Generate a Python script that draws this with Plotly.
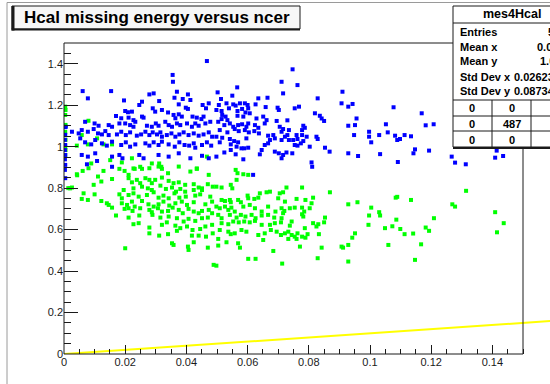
import plotly.graph_objects as go

# ---------------- data ----------------
blue_x = [
    0.0003, 0.0004, 0.0003, 0.0004, 0.0003, 0.0004, 0.0003, 0.0004, 0.0003, 0.0004,
    0.0467, 0.0355, 0.0356, 0.0061, 0.0154, 0.0078, 0.0369, 0.0279, 0.0293,
    0.0361, 0.0388, 0.0405, 0.0413, 0.0196, 0.0255, 0.0246, 0.0311,
    0.0375, 0.0398, 0.0405, 0.0453, 0.0464, 0.0473,
    0.0290, 0.0298, 0.0320, 0.0340, 0.0200, 0.0209, 0.0222,
    0.0170, 0.0187, 0.0211, 0.0227, 0.0255, 0.0260,
    0.0358, 0.0375, 0.0385, 0.0364, 0.0420, 0.0434, 0.0449, 0.0456,
    0.0069, 0.0100, 0.0113, 0.0146, 0.0157,
    0.0181, 0.0200, 0.0216, 0.0227, 0.0233,
    0.0271, 0.0287, 0.0300, 0.0309,
    0.0331, 0.0342, 0.0353, 0.0369, 0.0380,
    0.0402, 0.0418, 0.0429, 0.0440, 0.0462, 0.0478,
    0.0006, 0.0026, 0.0048, 0.0058, 0.0078, 0.0097, 0.0111,
    0.0124, 0.0135, 0.0146, 0.0173, 0.0187, 0.0202, 0.0216,
    0.0238, 0.0252, 0.0266, 0.0279, 0.0290, 0.0304, 0.0315, 0.0320,
    0.0336, 0.0351, 0.0364, 0.0377, 0.0391, 0.0407, 0.0424, 0.0440, 0.0456, 0.0473, 0.0484,
    0.0053, 0.0069, 0.0089, 0.0102, 0.0124, 0.0140, 0.0157,
    0.0187, 0.0202, 0.0216, 0.0233,
    0.0266, 0.0279, 0.0293, 0.0309, 0.0320,
    0.0342, 0.0362, 0.0377, 0.0394, 0.0409, 0.0424, 0.0429, 0.0451, 0.0467, 0.0481,
    0.0058, 0.0078, 0.0102, 0.0157, 0.0181, 0.0191,
    0.0246, 0.0260, 0.0309, 0.0342, 0.0375, 0.0413, 0.0451, 0.0473,
    0.0075, 0.0108, 0.0157, 0.0618,
    0.0747, 0.0711, 0.0763, 0.0566, 0.0716, 0.0502, 0.0550, 0.0513, 0.0635, 0.0665,
    0.0829, 0.0910, 0.0907, 0.0929, 0.0943, 0.0956, 0.0951, 0.0929, 0.0948, 0.0929,
    0.0961, 0.0809, 0.0811, 0.0868, 0.0853,
    0.0531, 0.0553, 0.0561, 0.0575, 0.0591, 0.0600, 0.0602, 0.0626, 0.0506, 0.0498,
    0.0515, 0.0539, 0.0567, 0.0582, 0.0593, 0.0607, 0.0659, 0.0698, 0.0702, 0.0754, 0.0768,
    0.0517, 0.0528, 0.0515, 0.0534, 0.0567, 0.0586, 0.0629, 0.0651, 0.0662, 0.0656,
    0.0695, 0.0730, 0.0820, 0.0836, 0.0842, 0.0850,
    0.0504, 0.0524, 0.0542, 0.0553, 0.0569, 0.0582, 0.0596, 0.0602, 0.0624, 0.0635,
    0.0705, 0.0716, 0.0735, 0.0782, 0.0787, 0.0778,
    0.0509, 0.0534, 0.0558, 0.0571, 0.0591, 0.0604, 0.0622, 0.0637, 0.0667, 0.0684,
    0.0711, 0.0722, 0.0730, 0.0760, 0.0778, 0.0793, 0.0825, 0.0829,
    0.0498, 0.0517, 0.0542, 0.0556, 0.0569, 0.0596, 0.0673, 0.0689, 0.0711, 0.0735,
    0.0749, 0.0763, 0.0782,
    0.0509, 0.0545, 0.0564, 0.0580, 0.0602, 0.0656, 0.0667, 0.0754, 0.0774, 0.0763, 0.0803,
    0.0524, 0.0545, 0.0561, 0.0589, 0.0646, 0.0640, 0.0689, 0.0702, 0.0716, 0.0727,
    0.0746, 0.0711, 0.0498, 0.0586,
    0.1077, 0.1169, 0.1052, 0.1182, 0.1208, 0.0997, 0.0997, 0.1004, 0.1030, 0.1058,
    0.1082, 0.1089, 0.1098, 0.1113, 0.1134, 0.1147, 0.1142, 0.1193, 0.1033, 0.1091,
    0.1267, 0.1278, 0.1313, 0.1414, 0.1409, 0.1435,
]
blue_y = [
    1.094, 1.057, 1.033, 1.008, 0.984, 0.960, 0.939, 0.912, 0.888, 0.848,
    1.413, 1.346, 1.313, 1.268, 1.268, 1.233, 1.265, 1.252, 1.257,
    1.236, 1.230, 1.252, 1.225, 1.223, 1.217, 1.201, 1.220,
    1.204, 1.188, 1.182, 1.201, 1.185, 1.209,
    1.185, 1.169, 1.177, 1.165, 1.172, 1.166, 1.169,
    1.148, 1.137, 1.140, 1.128, 1.145, 1.140,
    1.153, 1.156, 1.145, 1.137, 1.145, 1.140, 1.133, 1.145,
    1.120, 1.112, 1.101, 1.104, 1.096,
    1.112, 1.112, 1.104, 1.096, 1.120,
    1.101, 1.096, 1.112, 1.101,
    1.120, 1.104, 1.096, 1.112, 1.104,
    1.112, 1.096, 1.112, 1.101, 1.112, 1.120,
    1.096, 1.072, 1.064, 1.080, 1.072, 1.085, 1.064,
    1.059, 1.075, 1.056, 1.059, 1.072, 1.056, 1.069,
    1.053, 1.059, 1.072, 1.056, 1.069, 1.059, 1.069, 1.048,
    1.056, 1.064, 1.048, 1.059, 1.069, 1.056, 1.064, 1.053, 1.059, 1.069, 1.048,
    1.040, 1.021, 1.011, 1.032, 1.016, 1.005, 1.024,
    1.008, 1.021, 1.000, 1.011,
    1.016, 1.005, 1.021, 1.008, 1.024,
    1.011, 1.000, 1.021, 1.008, 1.005, 1.016, 0.995, 1.008, 1.021, 1.005,
    0.960, 0.952, 0.968, 0.952, 0.960, 0.944,
    0.960, 0.944, 0.960, 0.952, 0.968, 0.944, 0.956, 0.944,
    0.915, 0.931, 0.903, 0.864,
    1.373, 1.313, 1.297, 1.286, 1.257, 1.262, 1.246, 1.230, 1.233, 1.236,
    1.233, 1.265, 1.209, 1.193, 1.206, 1.136, 1.104, 1.101, 1.056, 0.968,
    0.955, 0.924, 0.903, 0.976, 0.995,
    1.209, 1.204, 1.198, 1.209, 1.209, 1.201, 1.185, 1.204, 1.201, 1.177,
    1.172, 1.185, 1.172, 1.182, 1.165, 1.161, 1.191, 1.188, 1.177, 1.185, 1.193,
    1.153, 1.145, 1.133, 1.128, 1.149, 1.145, 1.136, 1.145, 1.128, 1.112,
    1.124, 1.127, 1.161, 1.149, 1.136, 1.124,
    1.120, 1.104, 1.112, 1.096, 1.104, 1.108, 1.096, 1.112, 1.104, 1.091,
    1.096, 1.085, 1.080, 1.101, 1.091, 1.080,
    1.080, 1.069, 1.085, 1.075, 1.080, 1.069, 1.075, 1.064, 1.053, 1.056,
    1.072, 1.048, 1.056, 1.056, 1.056, 1.048, 1.048, 1.037,
    1.048, 1.043, 1.037, 1.027, 1.021, 1.040, 1.032, 1.040, 1.032, 1.032,
    1.032, 1.037, 1.027,
    1.021, 1.011, 1.000, 0.992, 0.995, 1.008, 1.016, 1.008, 1.016, 1.005, 1.000,
    0.972, 0.984, 0.963, 0.992, 0.984, 0.963, 0.976, 0.968, 0.960, 0.972,
    0.968, 0.944, 0.952, 0.939,
    1.190, 1.161, 1.108, 1.103, 1.108, 1.072, 1.048, 1.021, 1.056, 1.069,
    1.053, 1.032, 1.037, 1.056, 1.050, 0.987, 0.968, 0.981, 0.964, 0.926,
    0.952, 0.923, 0.915, 0.981, 0.947, 0.955,
]

green_x = [
    0.0004, 0.0005, 0.0004, 0.0005, 0.0004, 0.0005, 0.0004, 0.0005, 0.0004,
    0.0014, 0.0026, 0.0043,
    0.0080, 0.0058, 0.0108, 0.0078, 0.0129, 0.0157, 0.0042, 0.0089, 0.0151, 0.0189,
    0.0222, 0.0227, 0.0249, 0.0287, 0.0311, 0.0318, 0.0434, 0.0467,
    0.0042, 0.0061, 0.0080, 0.0111, 0.0129, 0.0157, 0.0181, 0.0198, 0.0211, 0.0231,
    0.0255, 0.0279, 0.0309, 0.0320, 0.0340, 0.0375, 0.0413, 0.0434, 0.0473,
    0.0122, 0.0211, 0.0222, 0.0238, 0.0249, 0.0266, 0.0279, 0.0287, 0.0298, 0.0320,
    0.0342, 0.0358, 0.0375, 0.0396, 0.0424, 0.0440, 0.0451, 0.0470, 0.0486,
    0.0020, 0.0097, 0.0195, 0.0227, 0.0255, 0.0274, 0.0287, 0.0315, 0.0333, 0.0353,
    0.0366, 0.0380, 0.0396, 0.0424, 0.0451,
    0.0064, 0.0100, 0.0181, 0.0189, 0.0211, 0.0227, 0.0244, 0.0271, 0.0293, 0.0309,
    0.0325, 0.0342, 0.0361, 0.0377, 0.0398, 0.0429, 0.0445, 0.0478,
    0.0058, 0.0078, 0.0122, 0.0140, 0.0146, 0.0189, 0.0206, 0.0222, 0.0231, 0.0255,
    0.0276, 0.0293, 0.0309, 0.0325, 0.0344, 0.0364, 0.0385, 0.0402, 0.0424, 0.0462, 0.0484,
    0.0157, 0.0198, 0.0211, 0.0224, 0.0249, 0.0279, 0.0287, 0.0307, 0.0320, 0.0340,
    0.0355, 0.0375, 0.0388, 0.0407, 0.0424, 0.0440, 0.0451, 0.0473,
    0.0170, 0.0211, 0.0246, 0.0289, 0.0315, 0.0342, 0.0369, 0.0391, 0.0407, 0.0429,
    0.0451, 0.0470, 0.0484,
    0.0227, 0.0244, 0.0279, 0.0320, 0.0336, 0.0364, 0.0380, 0.0402, 0.0420, 0.0445,
    0.0462, 0.0484,
    0.0279, 0.0311, 0.0340, 0.0369, 0.0418, 0.0440, 0.0464, 0.0486,
    0.0200, 0.0353, 0.0358, 0.0405, 0.0407, 0.0424, 0.0470, 0.0489,
    0.0561, 0.0567, 0.0586, 0.0602,
    0.0498, 0.0515, 0.0545, 0.0550, 0.0564, 0.0727, 0.0778, 0.0869,
    0.0515, 0.0526, 0.0542, 0.0545, 0.0569, 0.0578, 0.0600, 0.0602, 0.0622, 0.0635,
    0.0640, 0.0662, 0.0673, 0.0700, 0.0705, 0.0716, 0.0722, 0.0760, 0.0789, 0.0814,
    0.0809, 0.0929, 0.0959,
    0.0498, 0.0509, 0.0526, 0.0537, 0.0547, 0.0558, 0.0586, 0.0607, 0.0624, 0.0646,
    0.0667, 0.0691, 0.0711, 0.0716, 0.0720, 0.0738, 0.0754, 0.0778, 0.0785, 0.0803,
    0.0504, 0.0515, 0.0542, 0.0564, 0.0578, 0.0593, 0.0613, 0.0626, 0.0646, 0.0667,
    0.0687, 0.0711, 0.0778, 0.0782, 0.0853,
    0.0515, 0.0537, 0.0553, 0.0571, 0.0589, 0.0607, 0.0624, 0.0646, 0.0673, 0.0689,
    0.0709, 0.0738, 0.0744, 0.0787, 0.0814, 0.0825, 0.0831, 0.0850,
    0.0509, 0.0537, 0.0545, 0.0558, 0.0580, 0.0596, 0.0635, 0.0656, 0.0676, 0.0695,
    0.0709, 0.0722, 0.0733, 0.0744, 0.0754, 0.0763, 0.0778, 0.0796, 0.0833, 0.0951,
    0.0504, 0.0531, 0.0569, 0.0651, 0.0733, 0.0760, 0.0789, 0.0942,
    0.0504, 0.0575, 0.0771, 0.0842, 0.0907, 0.0912, 0.0929,
    0.0684, 0.0602, 0.0626, 0.0829, 0.0929, 0.0498, 0.0713,
    0.1004, 0.0997, 0.0995, 0.1030, 0.1033, 0.1084, 0.1089, 0.1134, 0.1086, 0.1049,
    0.1073, 0.1099, 0.1113, 0.1141, 0.1060, 0.1167, 0.1147, 0.1182, 0.1193, 0.1209,
    0.1269, 0.1278, 0.1314, 0.1409, 0.1437, 0.1415,
]
green_y = [
    1.193, 1.177, 1.153, 1.105, 1.071, 1.033, 1.000, 0.984, 0.960,
    0.800, 0.803, 0.862,
    1.125, 1.056, 1.040, 1.011, 1.011, 1.011, 1.005, 0.919, 0.935, 0.924,
    0.944, 0.895, 0.903, 0.919, 0.919, 0.903, 0.895, 0.952,
    0.867, 0.883, 0.896, 0.856, 0.883, 0.844, 0.893, 0.883, 0.864, 0.893,
    0.893, 0.896, 0.904, 0.893, 0.872, 0.904, 0.880, 0.893, 0.864,
    0.832, 0.848, 0.828, 0.840, 0.824, 0.848, 0.840, 0.824, 0.840, 0.851,
    0.835, 0.824, 0.828, 0.816, 0.819, 0.803, 0.799, 0.819, 0.807,
    0.799, 0.816, 0.791, 0.799, 0.807, 0.799, 0.791, 0.812, 0.796, 0.803,
    0.783, 0.796, 0.783, 0.791, 0.791,
    0.775, 0.770, 0.770, 0.751, 0.767, 0.775, 0.759, 0.767, 0.780, 0.754,
    0.764, 0.751, 0.775, 0.754, 0.759, 0.764, 0.770, 0.759,
    0.748, 0.743, 0.738, 0.727, 0.719, 0.727, 0.719, 0.735, 0.711, 0.738,
    0.722, 0.711, 0.722, 0.735, 0.716, 0.727, 0.735, 0.719, 0.732, 0.722, 0.735,
    0.706, 0.700, 0.703, 0.690, 0.703, 0.695, 0.684, 0.703, 0.687, 0.690,
    0.706, 0.695, 0.679, 0.700, 0.687, 0.679, 0.690, 0.695,
    0.668, 0.658, 0.668, 0.671, 0.658, 0.663, 0.655, 0.639, 0.652, 0.642,
    0.655, 0.658, 0.679,
    0.626, 0.631, 0.610, 0.623, 0.635, 0.619, 0.607, 0.615, 0.598, 0.603,
    0.615, 0.623,
    0.582, 0.571, 0.578, 0.594, 0.571, 0.571, 0.566, 0.582,
    0.510, 0.534, 0.526, 0.518, 0.502, 0.539, 0.513, 0.430,
    0.888, 0.872, 0.867, 0.864,
    0.807, 0.803, 0.816, 0.799, 0.840, 0.803, 0.803, 0.780,
    0.743, 0.738, 0.743, 0.732, 0.743, 0.732, 0.764, 0.751, 0.748, 0.754,
    0.775, 0.780, 0.783, 0.751, 0.775, 0.780, 0.735, 0.748, 0.743, 0.754,
    0.727, 0.722, 0.732,
    0.711, 0.703, 0.711, 0.695, 0.706, 0.687, 0.711, 0.719, 0.703, 0.687,
    0.711, 0.687, 0.703, 0.679, 0.690, 0.703, 0.706, 0.706, 0.687, 0.703,
    0.671, 0.655, 0.671, 0.658, 0.671, 0.663, 0.671, 0.655, 0.668, 0.671,
    0.658, 0.655, 0.674, 0.663, 0.658,
    0.631, 0.626, 0.639, 0.635, 0.639, 0.635, 0.642, 0.623, 0.623, 0.631,
    0.635, 0.619, 0.639, 0.607, 0.631, 0.615, 0.626, 0.635,
    0.598, 0.590, 0.578, 0.582, 0.598, 0.590, 0.574, 0.582, 0.598, 0.590,
    0.574, 0.582, 0.590, 0.574, 0.566, 0.582, 0.566, 0.578, 0.578, 0.582,
    0.555, 0.539, 0.534, 0.550, 0.555, 0.555, 0.561, 0.561,
    0.523, 0.513, 0.518, 0.513, 0.518, 0.513, 0.526,
    0.497, 0.459, 0.459, 0.462, 0.446, 0.426, 0.436,
    0.706, 0.668, 0.623, 0.684, 0.668, 0.754, 0.758, 0.743, 0.648, 0.607,
    0.616, 0.603, 0.578, 0.581, 0.526, 0.529, 0.454, 0.610, 0.594, 0.655,
    0.722, 0.711, 0.787, 0.684, 0.631, 0.587,
]

line_x = [0.0, 0.16]
line_y = [0.0, 0.16]

x_ticks = [0, 0.02, 0.04, 0.06, 0.08, 0.10, 0.12, 0.14]
x_tick_labels = ["0", "0.02", "0.04", "0.06", "0.08", "0.1", "0.12", "0.14"]
x_minor = [0.005 * i for i in range(31)]
y_ticks = [0, 0.2, 0.4, 0.6, 0.8, 1.0, 1.2, 1.4]
y_tick_labels = ["0", "0.2", "0.4", "0.6", "0.8", "1", "1.2", "1.4"]
y_minor = [0.05 * i for i in range(31)]

title_text = "Hcal missing energy versus ncer"
hist_name = "mes4Hcal"
stats_labels = ["Entries", "Mean x", "Mean y", "Std Dev x", "Std Dev y"]
stats_values = ["511", "0.04497", "1.065", "0.02623", "0.08734"]
table_rows = [["0", "0"], ["0", "487"], ["0", "0"]]

# ---------------- layout geometry ----------------
W, H = 550, 384
L, R, T, B = 64, 0, 43, 30
FRAME_RIGHT = 523
X_FRAME = 0.15
Y_MAX = 1.5
plot_w = W - L - R
plot_h = H - T - B
X_MAX = X_FRAME * plot_w / (FRAME_RIGHT - L)


def px(xpix):
    return (xpix - L) / plot_w


def py(ypix):
    return (H - B - ypix) / plot_h


FONT = "Liberation Sans, Arial, Helvetica, sans-serif"
DARK = "#1a1a1a"
STAT_SIZE = 11

fig = go.Figure()
fig.add_trace(go.Scatter(x=line_x, y=line_y, mode="lines",
                         line=dict(color="#ffff00", width=2), hoverinfo="skip"))
fig.add_trace(go.Scatter(x=green_x, y=green_y, mode="markers",
                         marker=dict(symbol="square", size=4, color="#00ff00", line=dict(width=0))))
fig.add_trace(go.Scatter(x=blue_x, y=blue_y, mode="markers",
                         marker=dict(symbol="square", size=4, color="#0000ff", line=dict(width=0))))

shapes = []
# outer pad border
shapes.append(dict(type="line", xref="paper", yref="paper", x0=px(7), x1=px(W + 5), y0=py(2.5), y1=py(2.5),
                   line=dict(color="#9a9a9a", width=1)))
shapes.append(dict(type="line", xref="paper", yref="paper", x0=px(7), x1=px(7), y0=py(2.5), y1=py(H + 5),
                   line=dict(color="#9a9a9a", width=1)))
# frame
shapes.append(dict(type="rect", xref="paper", yref="paper", x0=0, x1=X_FRAME / X_MAX, y0=0, y1=1,
                   line=dict(color=DARK, width=1), layer="above"))
# title box
shapes.append(dict(type="rect", xref="paper", yref="paper", x0=px(12), x1=px(300), y0=py(29), y1=py(6),
                   line=dict(color=DARK, width=1), fillcolor="#f7f7f7"))
shapes.append(dict(type="rect", xref="paper", yref="paper", x0=px(11.5), x1=px(14.5), y0=py(30.5), y1=py(6),
                   line=dict(width=0), fillcolor=DARK))
shapes.append(dict(type="rect", xref="paper", yref="paper", x0=px(11.5), x1=px(300), y0=py(30.5), y1=py(28.5),
                   line=dict(width=0), fillcolor=DARK))
# stats box
shapes.append(dict(type="rect", xref="paper", yref="paper", x0=px(453), x1=px(W + 40), y0=py(147), y1=py(6),
                   line=dict(color=DARK, width=1), fillcolor="white"))
shapes.append(dict(type="line", xref="paper", yref="paper", x0=px(453), x1=px(W + 40), y0=py(148), y1=py(148),
                   line=dict(color=DARK, width=2)))
for yl in [23, 100, 116, 131]:
    shapes.append(dict(type="line", xref="paper", yref="paper", x0=px(453), x1=px(W + 40), y0=py(yl), y1=py(yl),
                       line=dict(color=DARK, width=1)))
for xl in [492, 531]:
    shapes.append(dict(type="line", xref="paper", yref="paper", x0=px(xl), x1=px(xl), y0=py(147), y1=py(100),
                       line=dict(color=DARK, width=1)))

ann = []
ann.append(dict(text=title_text, xref="paper", yref="paper", x=px(157), y=py(18), xanchor="center", yanchor="middle",
                showarrow=False, font=dict(family=FONT, size=17, color="black", weight="bold")))
ann.append(dict(text=hist_name, xref="paper", yref="paper", x=px(512), y=py(14.5), xanchor="center", yanchor="middle",
                showarrow=False, font=dict(family=FONT, size=12.5, color="black", weight="bold")))
row_y = [32, 46.5, 61, 76.5, 91]
val_x = [546, 535, 538, 512, 512]
for lab, val, yy, vx in zip(stats_labels, stats_values, row_y, val_x):
    ann.append(dict(text=lab, xref="paper", yref="paper", x=px(458), y=py(yy), xanchor="left", yanchor="middle",
                    showarrow=False, font=dict(family=FONT, size=STAT_SIZE, color="black", weight="bold")))
    ann.append(dict(text=val, xref="paper", yref="paper", x=px(vx), y=py(yy), xanchor="left", yanchor="middle",
                    showarrow=False, font=dict(family=FONT, size=STAT_SIZE, color="black", weight="bold")))
tab_y = [108, 124, 139.5]
tab_x = [472, 511.5]
for row, yy in zip(table_rows, tab_y):
    for cell, xx in zip(row, tab_x):
        ann.append(dict(text=cell, xref="paper", yref="paper", x=px(xx), y=py(yy), xanchor="center", yanchor="middle",
                        showarrow=False, font=dict(family=FONT, size=STAT_SIZE, color="black", weight="bold")))

fig.update_layout(
    width=W, height=H,
    margin=dict(l=L, r=R, t=T, b=B, pad=0),
    paper_bgcolor="white",
    plot_bgcolor="rgba(0,0,0,0)",
    showlegend=False,
    shapes=shapes,
    annotations=ann,
    xaxis=dict(range=[0, X_MAX], showgrid=False, zeroline=False, showline=False,
               ticks="inside", ticklen=9, tickwidth=1, tickcolor=DARK,
               tickmode="array", tickvals=x_ticks, ticktext=x_tick_labels,
               tickfont=dict(family=FONT, size=11, color=DARK),
               minor=dict(tickmode="array", tickvals=x_minor, ticks="inside", ticklen=5,
                          tickwidth=1, tickcolor=DARK, showgrid=False)),
    yaxis=dict(range=[0, Y_MAX], showgrid=False, zeroline=False, showline=False,
               ticks="inside", ticklen=14, tickwidth=1, tickcolor=DARK,
               tickmode="array", tickvals=y_ticks, ticktext=y_tick_labels,
               tickfont=dict(family=FONT, size=11, color=DARK),
               minor=dict(tickmode="array", tickvals=y_minor, ticks="inside", ticklen=7,
                          tickwidth=1, tickcolor=DARK, showgrid=False)),
)

fig.write_html("out.html",
               config={"displayModeBar": False},
               post_script="document.body.style.margin='0';document.body.style.overflow='hidden';")
